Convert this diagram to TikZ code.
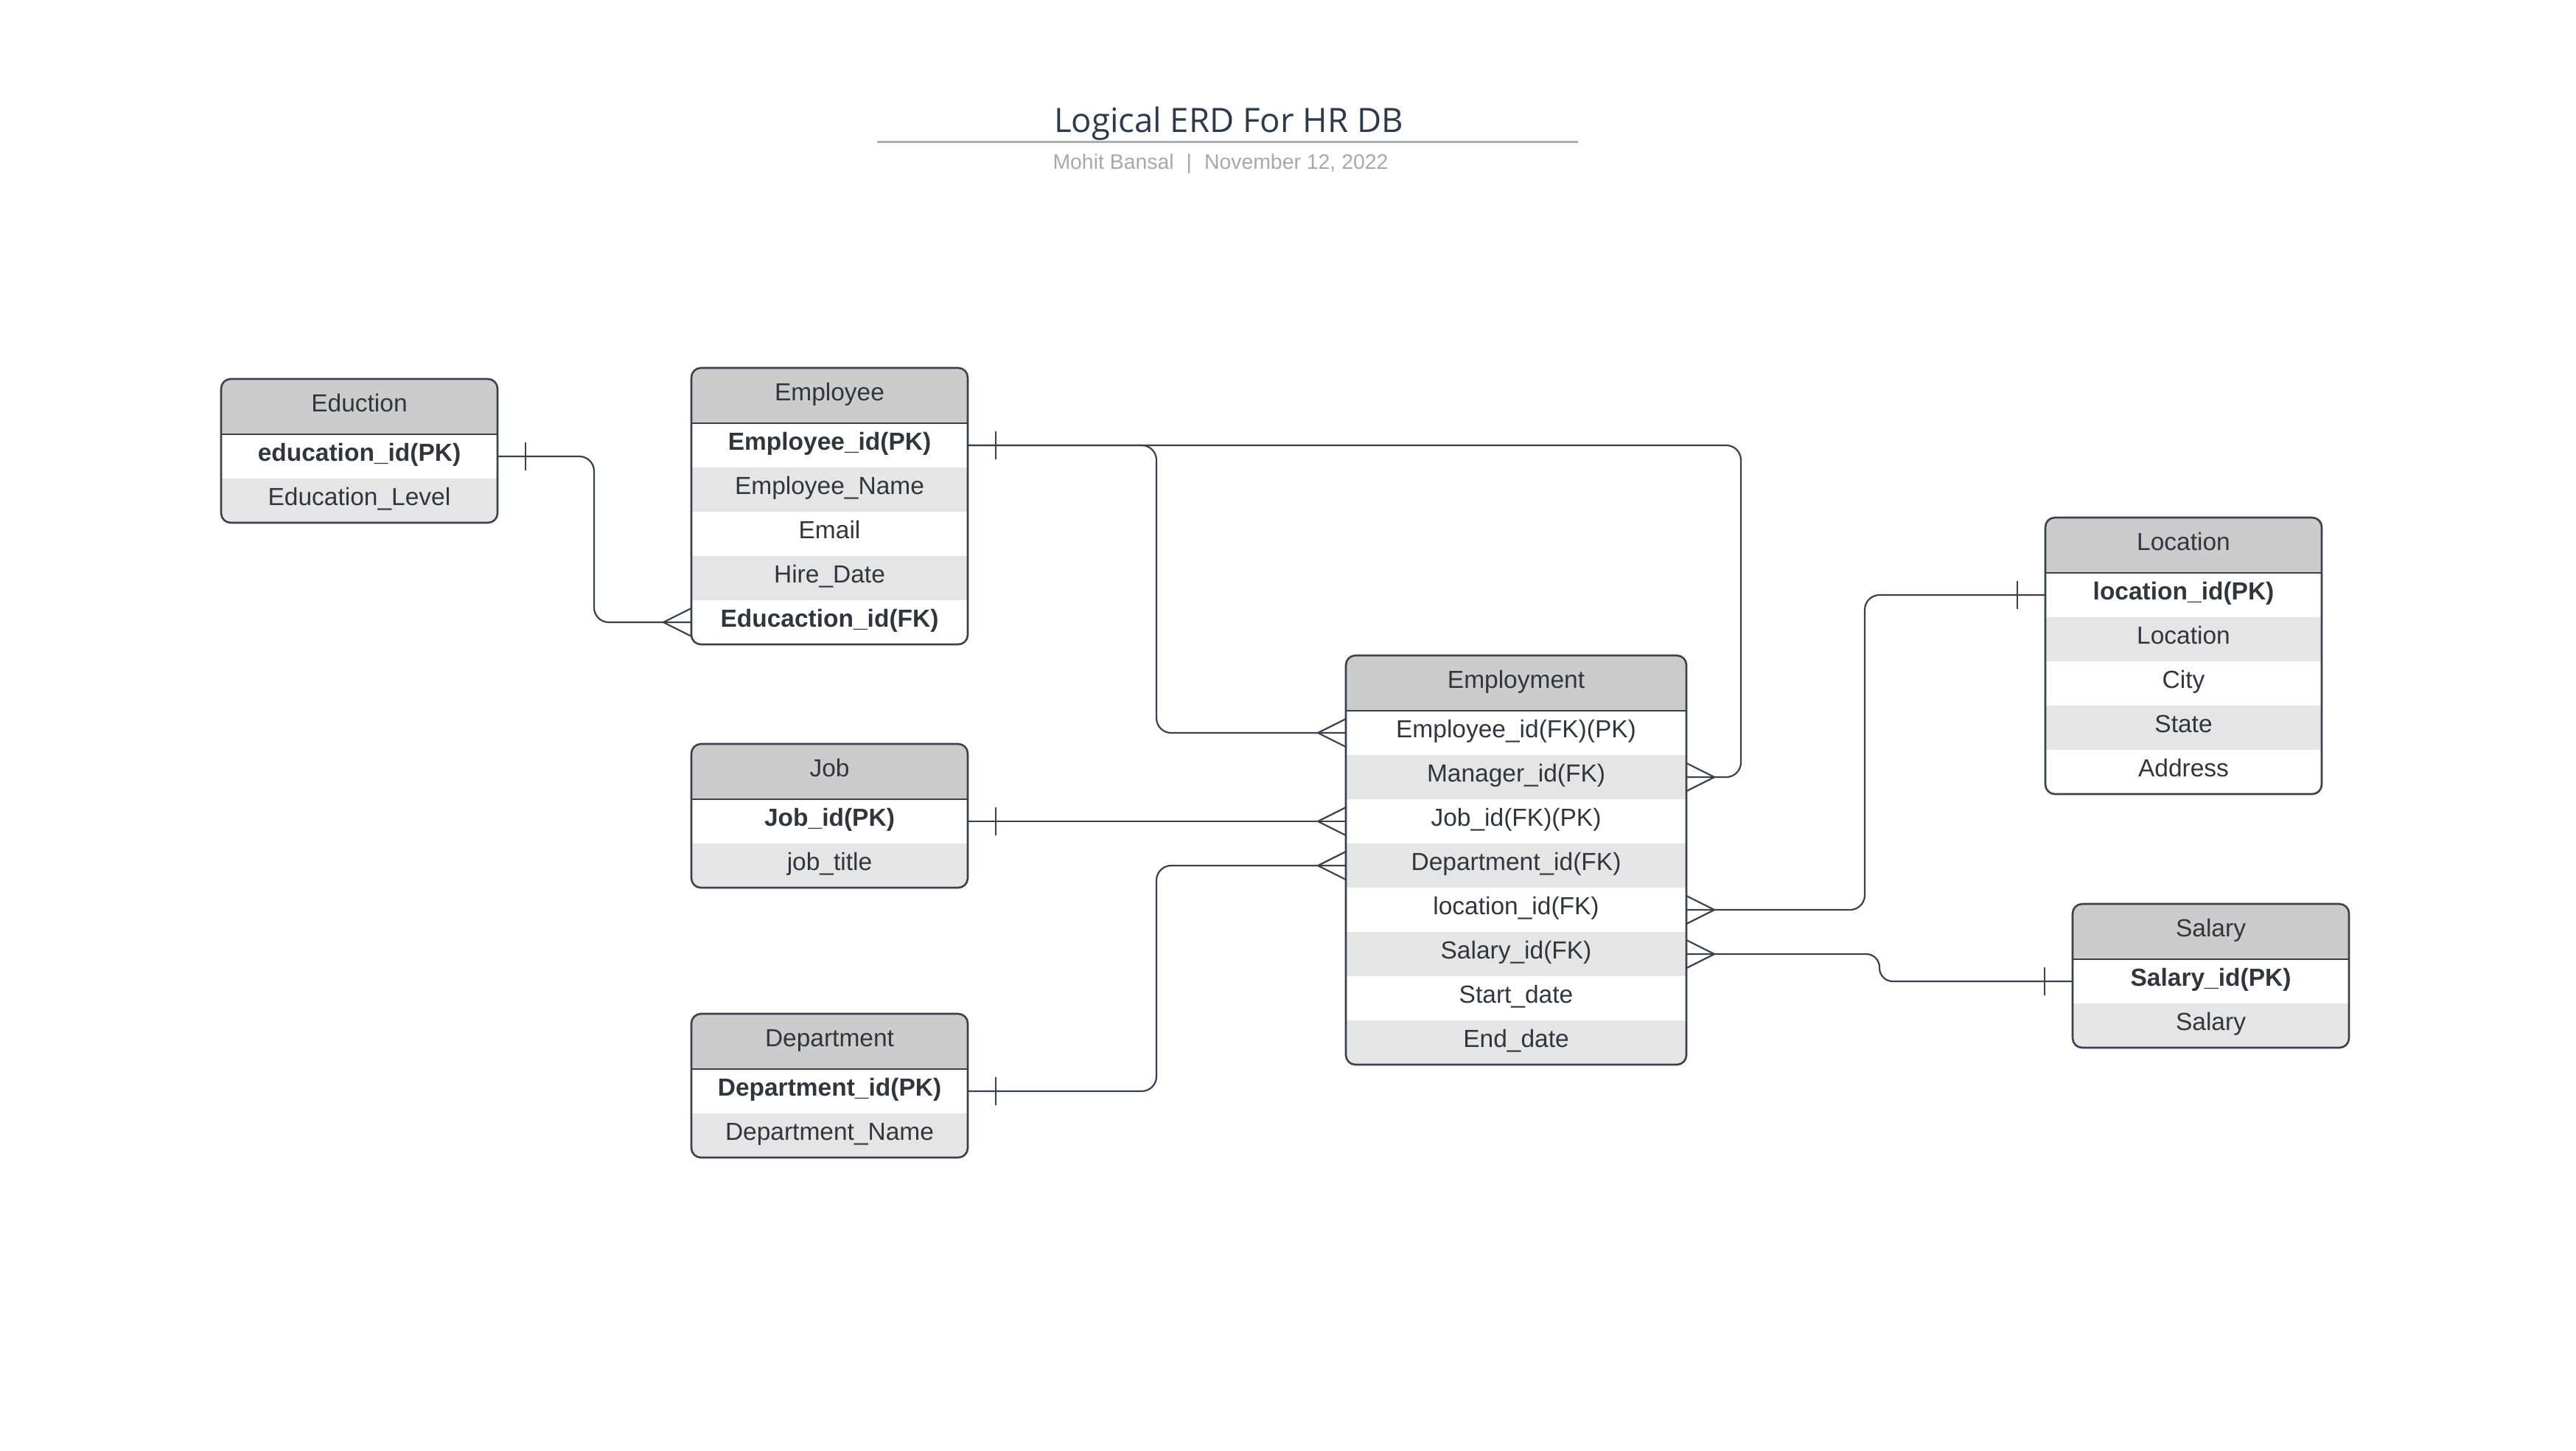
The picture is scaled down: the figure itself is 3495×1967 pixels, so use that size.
\documentclass[tikz,border=0pt]{standalone}
\usepackage{fontspec}
\setmainfont{Liberation Sans}
\newfontfamily\titlefont{Open Sans}
\usetikzlibrary{calc}
\definecolor{linec}{RGB}{58,65,76}
\definecolor{textc}{RGB}{50,54,60}
\definecolor{headfill}{RGB}{204,204,204}
\definecolor{altfill}{RGB}{229,229,229}
\definecolor{titlec}{RGB}{44,58,76}
\definecolor{subc}{RGB}{163,168,177}
\definecolor{rulec}{RGB}{168,173,182}
\tikzset{
  conn/.style={draw=linec, line width=2.2pt},
  tbl/.style={draw=linec, line width=2.6pt, rounded corners=13pt},
  rowbox/.style={rectangle, inner sep=0pt, outer sep=0pt, minimum height=60pt,
    text height=24pt, text depth=10.5pt,
    text=textc, font=\fontsize{33.5}{40}\selectfont, anchor=north west},
  headbox/.style={rowbox, minimum height=75pt, fill=headfill},
}
% #1 name #2 x #3 y #4 width #5 nrows #6 title #7 rows
\newcommand{\erdtable}[7]{%
  \begin{scope}
    \clip[rounded corners=13pt] (#2,#3) rectangle ++(#4,{75+60*#5});
    \node[headbox, minimum width=#4pt] (#1-h) at (#2,#3) {#6};
    \foreach \rt [count=\i] in {#7} {
      \pgfmathsetmacro\ry{#3+75+60*(\i-1)}
      \ifodd\i \def\rf{white}\else \def\rf{altfill}\fi
      \node[rowbox, minimum width=#4pt, fill=\rf] (#1-\i) at (#2,\ry) {\rt};
    }
  \end{scope}
  \draw[tbl] (#2,#3) rectangle ++(#4,{75+60*#5});
  \draw[linec, line width=2.8pt] (#2,{#3+75}) -- ++(#4,0);
}
\newcommand{\crowL}[1]{\draw[conn] ([yshift=19pt]#1.west) -- ([xshift=-38pt]#1.west) -- ([yshift=-19pt]#1.west);}
\newcommand{\crowR}[1]{\draw[conn] ([yshift=19pt]#1.east) -- ([xshift=38pt]#1.east) -- ([yshift=-19pt]#1.east);}
\newcommand{\tickR}[1]{\draw[conn] ([xshift=38pt,yshift=19pt]#1.east) -- ([xshift=38pt,yshift=-19pt]#1.east);}
\newcommand{\tickL}[1]{\draw[conn] ([xshift=-38pt,yshift=19pt]#1.west) -- ([xshift=-38pt,yshift=-19pt]#1.west);}
\begin{document}
\begin{tikzpicture}[x=1pt,y=-1pt]
\fill[white] (0,0) rectangle (3495,1967);
\useasboundingbox (0,0) rectangle (3495,1967);

% title block
\node[anchor=base, text=titlec, inner sep=0pt, font=\titlefont\fontsize{45.5}{50}\selectfont] (title) at (1667,179) {Logical ERD For HR DB};
\coordinate (ruleA) at (1190,192.5);
\coordinate (ruleB) at (2141,192.5);
\draw[rulec, line width=3.5pt] (ruleA) -- (ruleB);
\node[anchor=base, text=subc, inner sep=0pt, font=\fontsize{28.4}{32}\selectfont] (sub) at (1656,229) {Mohit Bansal\hspace{17pt}|\hspace{17pt}November 12, 2022};

% tables
\erdtable{edu}{300}{514}{375}{2}{Eduction}{{\bfseries education\_id(PK)},Education\_Level}
\erdtable{emp}{938}{499}{375}{5}{Employee}{{\bfseries Employee\_id(PK)},Employee\_Name,Email,Hire\_Date,{\bfseries Educaction\_id(FK)}}
\erdtable{job}{938}{1009}{375}{2}{Job}{{\bfseries Job\_id(PK)},job\_title}
\erdtable{dep}{938}{1375}{375}{2}{Department}{{\bfseries Department\_id(PK)},Department\_Name}
\erdtable{emt}{1826}{889}{462}{8}{Employment}{Employee\_id(FK)(PK),Manager\_id(FK),Job\_id(FK)(PK),Department\_id(FK),location\_id(FK),Salary\_id(FK),Start\_date,End\_date}
\erdtable{loc}{2775}{702}{375}{5}{Location}{{\bfseries location\_id(PK)},Location,City,State,Address}
\erdtable{sal}{2812}{1226}{375}{2}{Salary}{{\bfseries Salary\_id(PK)},Salary}

% routing columns
\coordinate (v1) at (806,0);
\coordinate (v2) at (1569,0);
\coordinate (v3) at (2362,0);
\coordinate (v4) at (2530,0);
\coordinate (v5) at (2550,0);

% connectors
\draw[conn, rounded corners=20pt] (edu-1.east) -- (v1 |- edu-1.east) -- (v1 |- emp-5.west) -- (emp-5.west);
\tickR{edu-1}\crowL{emp-5}

\draw[conn, rounded corners=20pt] (emp-1.east) -- (v2 |- emp-1.east) -- (v2 |- emt-1.west) -- (emt-1.west);
\draw[conn, rounded corners=20pt] (emp-1.east) -- (v3 |- emp-1.east) -- (v3 |- emt-2.east) -- (emt-2.east);
\tickR{emp-1}\crowL{emt-1}\crowR{emt-2}

\draw[conn] (job-1.east) -- (emt-3.west);
\tickR{job-1}\crowL{emt-3}

\draw[conn, rounded corners=20pt] (dep-1.east) -- (v2 |- dep-1.east) -- (v2 |- emt-4.west) -- (emt-4.west);
\tickR{dep-1}\crowL{emt-4}

\draw[conn, rounded corners=20pt] (emt-5.east) -- (v4 |- emt-5.east) -- (v4 |- loc-1.west) -- (loc-1.west);
\crowR{emt-5}\tickL{loc-1}

\draw[conn, rounded corners=18pt] (emt-6.east) -- (v5 |- emt-6.east) -- (v5 |- sal-1.west) -- (sal-1.west);
\crowR{emt-6}\tickL{sal-1}
\end{tikzpicture}
\end{document}
